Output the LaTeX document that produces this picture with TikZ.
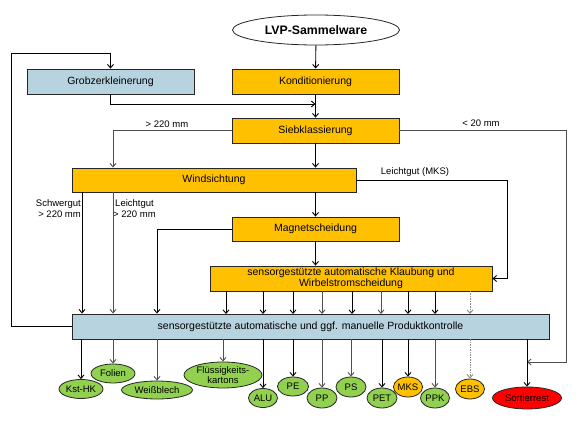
\documentclass[tikz,border=0pt]{standalone}
\usepackage{fontspec}
\setmainfont{Liberation Sans}
\usetikzlibrary{arrows.meta,shapes.geometric}
\definecolor{orangebox}{HTML}{FFC000}
\definecolor{bluebox}{HTML}{B7D3DF}
\definecolor{greenell}{HTML}{92D050}
\definecolor{redell}{HTML}{FF0000}
\definecolor{lgray}{HTML}{505050}
\tikzset{
  obox/.style={rectangle, draw=black!85, line width=0.9pt, fill=orangebox, inner sep=0pt, font=\fontsize{10.5}{11}\selectfont, align=center},
  bbox/.style={obox, fill=bluebox},
  ell/.style={ellipse, draw=black!85, line width=0.8pt, inner sep=0pt, font=\fontsize{9.5}{10.5}\selectfont, align=center},
  gell/.style={ell, fill=greenell},
  oell/.style={ell, fill=orangebox},
  rell/.style={ell, fill=redell},
  arr/.style={-{Straight Barb[length=3.5pt,width=6pt]}, line width=0.9pt, draw=black},
  garr/.style={arr, draw=lgray},
  dline/.style={arr, draw=black!45, dashed, dash pattern=on 1.5pt off 1pt},
  lbl/.style={font=\fontsize{9.5}{11}\selectfont, inner sep=0pt, align=center}
}
\begin{document}
\begin{tikzpicture}[x=1pt,y=-1pt]
\useasboundingbox[fill=white] (0,0) rectangle (584,422);
% main nodes
\node[ell, minimum width=167pt, minimum height=30pt, font=\fontsize{12.3}{13}\selectfont\bfseries] (lvp) at (316,30) {LVP-Sammelware};
\node[bbox, minimum width=167pt, minimum height=25pt] (grob) at (110.5,81.5) {Grobzerkleinerung};
\node[obox, minimum width=167pt, minimum height=25pt] (kond) at (315.5,81.5) {Konditionierung};
\node[obox, minimum width=167pt, minimum height=25pt] (sieb) at (315.5,130.5) {Siebklassierung};
\node[obox, minimum width=284pt, minimum height=24pt] (wind) at (214,180) {Windsichtung};
\node[obox, minimum width=167pt, minimum height=24pt] (magnet) at (315.5,229) {Magnetscheidung};
\node[obox, minimum width=282pt, minimum height=25pt, font=\fontsize{10.5}{10.5}\selectfont] (klaub) at (351,278.5) {sensorgestützte automatische Klaubung und\\Wirbelstromscheidung};
\node[bbox, minimum width=477pt, minimum height=25pt] (prod) at (310.5,326.5) {sensorgestützte automatische und ggf. manuelle Produktkontrolle};
% output ellipses
\node[gell, minimum width=44pt, minimum height=19pt] (kst) at (81,389) {Kst-HK};
\node[gell, minimum width=44pt, minimum height=19pt] (folien) at (113,373.5) {Folien};
\node[gell, minimum width=71pt, minimum height=18pt] (weiss) at (157,390) {Weißblech};
\node[gell, minimum width=78pt, minimum height=26pt, inner sep=-2pt] (fluess) at (223,375) {Flüssigkeits-\\kartons};
\node[gell, minimum width=29pt, minimum height=19pt] (alu) at (263,398) {ALU};
\node[gell, minimum width=31pt, minimum height=19pt] (pe) at (293,386.5) {PE};
\node[gell, minimum width=30pt, minimum height=20pt] (pp) at (322,398) {PP};
\node[gell, minimum width=30pt, minimum height=20pt] (ps) at (351,387) {PS};
\node[gell, minimum width=30pt, minimum height=20pt] (pet) at (382,398) {PET};
\node[oell, minimum width=29pt, minimum height=20pt] (mks) at (408,387) {MKS};
\node[gell, minimum width=29pt, minimum height=20pt] (ppk) at (435,398) {PPK};
\node[oell, minimum width=29pt, minimum height=20pt] (ebs) at (470,389) {EBS};
\node[rell, minimum width=69pt, minimum height=22pt] (rest) at (527,398) {Sortierrest};
% helper coordinates
\coordinate (fb) at (11,53);
\coordinate (j1) at (315.5,104);
\coordinate (schwer) at (82,192);
\coordinate (leicht) at (113,192);
\coordinate (lft) at (113,130.5);
\coordinate (sr) at (566,130.5);
\coordinate (srend) at (527,362);
\coordinate (mk) at (507,180);
\coordinate (mg) at (157,229);
% labels
\node[lbl] (l220) at (167,124) {> 220 mm};
\node[lbl] (l20) at (481,123.5) {< 20 mm};
\node[lbl] (lmks) at (415,172.5) {Leichtgut (MKS)};
\node[lbl, align=right, anchor=east] (lschwer) at (81,208.5) {Schwergut\\> 220 mm};
\node[lbl] (lleicht) at (134.5,208.5) {Leichtgut\\> 220 mm};
% connectors upper part
\draw[arr] (lvp) -- (kond);
\draw[arr] (kond) -- (sieb);
\draw[arr] (grob.south) |- (j1);
\draw[arr] (prod.west) -| (fb) -| (grob.north);
\draw[garr] (sieb.west) -- (lft) -- (lft |- wind.north);
\draw[garr] (sieb.east) -- (sr) |- (srend);
\draw[arr] (sieb) -- (sieb |- wind.north);
\draw[arr] (wind.south -| schwer) -- (schwer |- prod.north);
\draw[garr] (wind.south -| leicht) -- (leicht |- prod.north);
\draw[arr] (sieb |- wind.south) -- (sieb |- magnet.north);
\draw[arr] (wind.east) -- (mk) |- (klaub.east);
\draw[arr] (magnet.west) -- (mg) -- (mg |- prod.north);
\draw[arr] (magnet.south) -- (magnet.south |- klaub.north);
% klaub -> prod
\foreach \xx/\cc in {226/arr,263/arr,293/arr,322/garr,352/arr,381/garr,408/arr,435/arr}{
  \draw[\cc] (\xx,291) -- (\xx,314);
}
\draw[dline] (470,291) -- (470,314);
% prod -> outputs
\draw[arr] (prod.south -| kst.north) -- (kst.north);
\draw[garr] (prod.south -| folien.north) -- (folien.north);
\draw[garr] (prod.south -| weiss.north) -- (weiss.north);
\draw[garr] (prod.south -| fluess.north) -- (fluess.north);
\draw[arr] (prod.south -| alu.north) -- (alu.north);
\draw[arr] (prod.south -| pe.north) -- (pe.north);
\draw[garr] (prod.south -| pp.north) -- (pp.north);
\draw[garr] (prod.south -| ps.north) -- (ps.north);
\draw[arr] (prod.south -| pet.north) -- (pet.north);
\draw[arr] (prod.south -| mks.north) -- (mks.north);
\draw[garr] (prod.south -| ppk.north) -- (ppk.north);
\draw[dline] (prod.south -| ebs.north) -- (ebs.north);
\draw[arr] (prod.south -| rest.north) -- (rest.north);
\end{tikzpicture}
\end{document}
